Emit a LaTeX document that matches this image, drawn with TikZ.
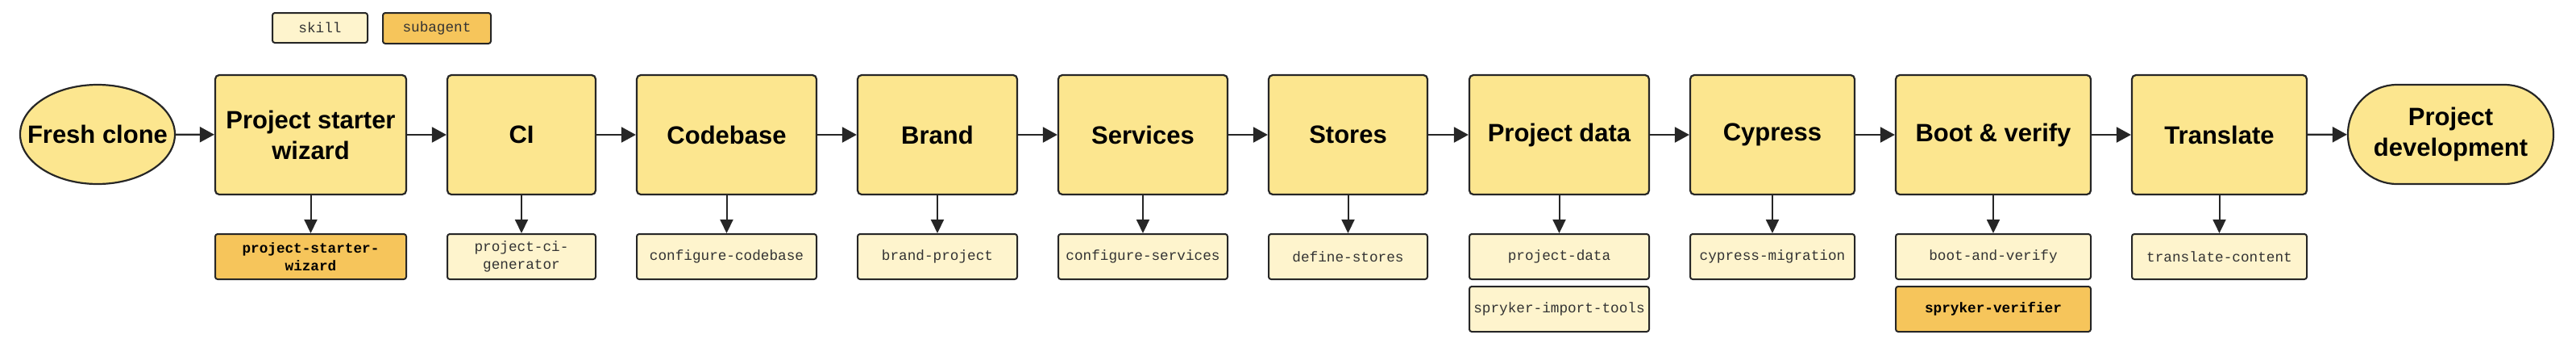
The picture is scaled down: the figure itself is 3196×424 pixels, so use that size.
\documentclass[tikz,border=0pt]{standalone}
\usepackage{fontspec}
\setmainfont{Liberation Sans}
\setmonofont{Liberation Mono}
\usetikzlibrary{arrows.meta,shapes.geometric}

\definecolor{stepfill}{HTML}{FCE68F}
\definecolor{skillfill}{HTML}{FEF4CD}
\definecolor{agentfill}{HTML}{F6C55B}
\definecolor{edgeline}{HTML}{262626}
\definecolor{monotext}{HTML}{333333}

\tikzset{
	stepnode/.style={draw=edgeline, line width=2.2pt, fill=stepfill, rounded corners=5pt,
		minimum height=148pt, inner sep=0pt, align=center,
		font=\bfseries\fontsize{31}{38}\selectfont},
	startnode/.style={ellipse, draw=edgeline, line width=2.2pt, fill=stepfill,
		minimum width=192pt, minimum height=123pt, inner xsep=-20pt, inner ysep=0pt,
		font=\bfseries\fontsize{31}{38}\selectfont},
	endnode/.style={draw=edgeline, line width=2.2pt, fill=stepfill, rounded corners=61pt,
		minimum width=255pt, minimum height=123pt, inner sep=0pt, align=center,
		font=\bfseries\fontsize{31}{38}\selectfont},
	skillnode/.style={draw=edgeline, line width=2pt, fill=skillfill, rounded corners=3pt,
		minimum height=56pt, inner sep=0pt, align=center, text=monotext,
		font=\ttfamily\fontsize{17.7}{22}\selectfont},
	agentnode/.style={skillnode, fill=agentfill, text=black,
		font=\ttfamily\bfseries\fontsize{17.7}{22}\selectfont},
	flow/.style={draw=edgeline, line width=2.2pt, -{Triangle[length=18pt,width=19pt]}},
	down/.style={draw=edgeline, line width=2pt, -{Triangle[length=17pt,width=16pt]}}
}

\begin{document}
\begin{tikzpicture}[x=1pt, y=-1pt]
		\useasboundingbox (0,0) rectangle (3196,424);
		
		% legend
		\node[skillnode, minimum width=118pt, minimum height=37pt] (keyskill) at (397,34.5) {skill};
		\node[agentnode, minimum width=134pt, minimum height=38pt, font=\ttfamily\fontsize{17.7}{22}\selectfont, text=monotext] (keyagent) at (542,35) {subagent};
		
		% main flow
		\node[startnode] (fresh) at (121,166.5) {Fresh clone};
		\node[stepnode, minimum width=237pt] (wizard) at (385.5,167) {Project starter\\wizard};
		\node[stepnode, minimum width=184pt] (ci) at (647,167) {CI};
		\node[stepnode, minimum width=223pt] (codebase) at (901.5,167) {Codebase};
		\node[stepnode, minimum width=198pt] (brand) at (1163,167) {Brand};
		\node[stepnode, minimum width=210pt] (services) at (1418,167) {Services};
		\node[stepnode, minimum width=197pt] (stores) at (1672.5,167) {Stores};
		\node[stepnode, minimum width=223pt] (pdata) at (1934.5,167) {Project data};
		\node[stepnode, minimum width=204pt] (cypress) at (2199,167) {Cypress};
		\node[stepnode, minimum width=242pt] (boot) at (2473,167) {Boot \& verify};
		\node[stepnode, minimum width=217pt] (translate) at (2753.5,167) {Translate};
		\node[endnode] (pdev) at (3040.5,166.5) {Project\\development};
		
		\draw[flow] (fresh) -- (wizard);
		\draw[flow] (wizard) -- (ci);
		\draw[flow] (ci) -- (codebase);
		\draw[flow] (codebase) -- (brand);
		\draw[flow] (brand) -- (services);
		\draw[flow] (services) -- (stores);
		\draw[flow] (stores) -- (pdata);
		\draw[flow] (pdata) -- (cypress);
		\draw[flow] (cypress) -- (boot);
		\draw[flow] (boot) -- (translate);
		\draw[flow] (translate) -- (pdev);
		
		% skills and subagents
		\node[agentnode, minimum width=237pt] (wizardsub) at (385.5,318) {project-starter-\\wizard};
		\node[skillnode, minimum width=184pt] (cisub) at (647,318) {project-ci-\\generator};
		\node[skillnode, minimum width=223pt] (codebasesub) at (901.5,318) {configure-codebase};
		\node[skillnode, minimum width=198pt] (brandsub) at (1163,318) {brand-project};
		\node[skillnode, minimum width=210pt] (servicessub) at (1418,318) {configure-services};
		\node[skillnode, minimum width=197pt] (storessub) at (1672.5,318) {define-stores};
		\node[skillnode, minimum width=223pt] (pdatasub) at (1934.5,318) {project-data};
		\node[skillnode, minimum width=223pt] (importsub) at (1934.5,383) {spryker-import-tools};
		\node[skillnode, minimum width=204pt] (cypresssub) at (2199,318) {cypress-migration};
		\node[skillnode, minimum width=242pt] (bootsub) at (2473,318) {boot-and-verify};
		\node[agentnode, minimum width=242pt] (verifiersub) at (2473,383) {spryker-verifier};
		\node[skillnode, minimum width=217pt] (translatesub) at (2753.5,318) {translate-content};
		
		\draw[down] (wizard) -- (wizardsub);
		\draw[down] (ci) -- (cisub);
		\draw[down] (codebase) -- (codebasesub);
		\draw[down] (brand) -- (brandsub);
		\draw[down] (services) -- (servicessub);
		\draw[down] (stores) -- (storessub);
		\draw[down] (pdata) -- (pdatasub);
		\draw[down] (cypress) -- (cypresssub);
		\draw[down] (boot) -- (bootsub);
		\draw[down] (translate) -- (translatesub);
		
	\end{tikzpicture}
\end{document}
